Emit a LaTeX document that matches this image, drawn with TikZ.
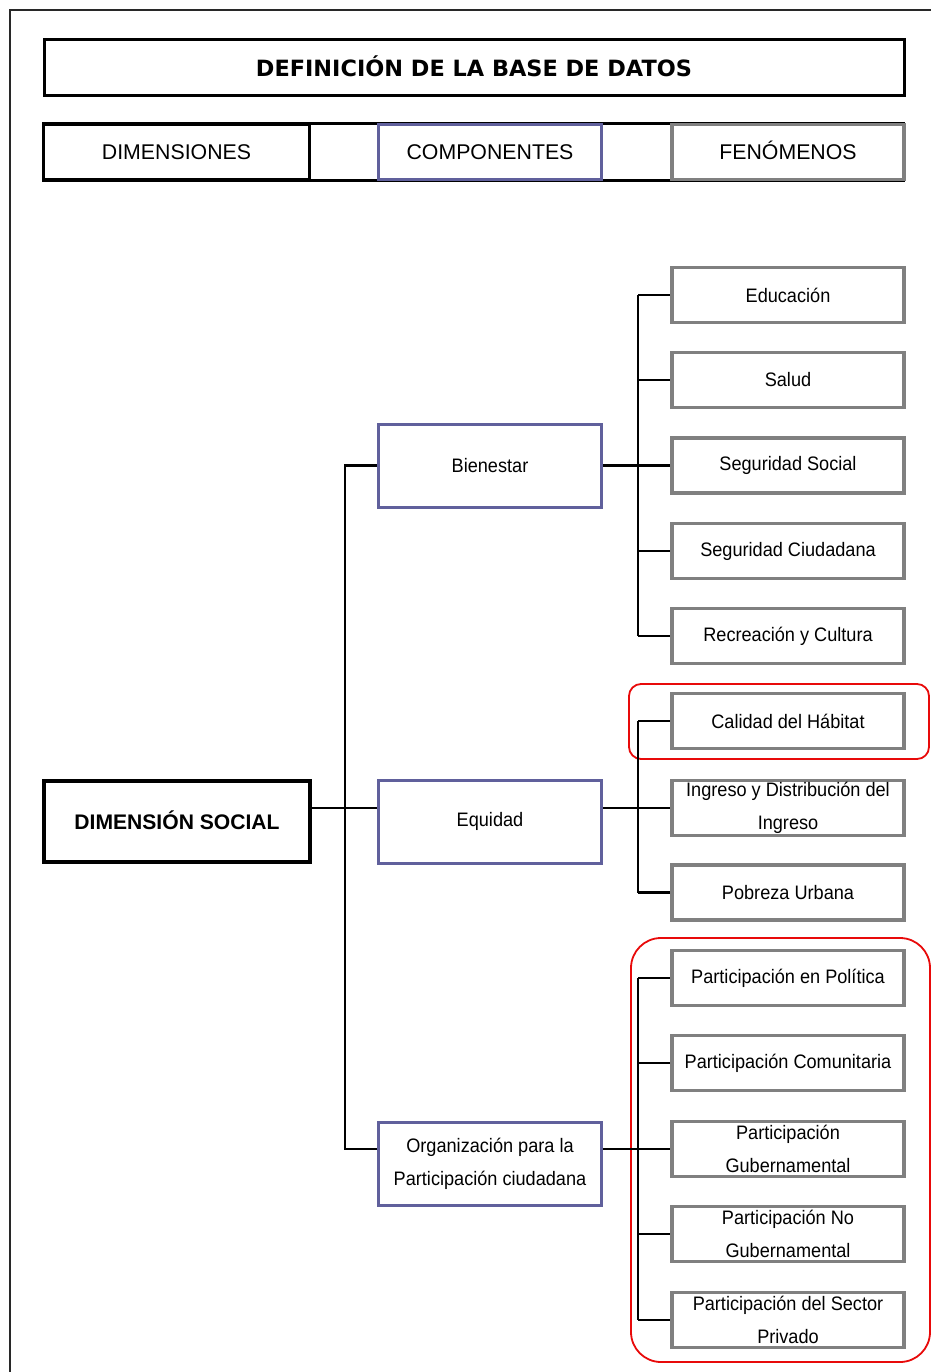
\documentclass[tikz,border=0pt]{standalone}
\usepackage{fontspec}
\setmainfont{Liberation Sans}
\newfontfamily\narrowf[FakeStretch=0.93]{Liberation Sans}
\newfontfamily\titlef{DejaVu Sans}
\definecolor{compblue}{RGB}{96,96,156}
\definecolor{fengray}{RGB}{128,128,128}
\definecolor{redmark}{RGB}{232,10,10}
\definecolor{framegray}{RGB}{40,40,40}
\tikzset{
  conn/.style={line width=2.8pt, black},
  hdrbox/.style={draw, rectangle, fill=white, minimum height=55pt, inner sep=0pt,
    text height=15.5pt, text depth=0pt, font=\fontsize{21.3}{24}\selectfont},
  dimbox/.style={draw=black, line width=3.8pt, rectangle, fill=white, minimum width=266pt,
    minimum height=81pt, inner sep=0pt, text height=15.5pt, text depth=0pt,
    font=\fontsize{21.1}{24}\selectfont\bfseries},
  compbox/.style={draw=compblue, line width=3pt, rectangle, fill=white, minimum width=223pt,
    minimum height=83pt, inner sep=0pt, align=center, font=\narrowf\fontsize{19.5}{33}\selectfont},
  fenbox/.style={draw=fengray, line width=3.6pt, rectangle, fill=white, minimum width=232pt,
    minimum height=55pt, inner sep=0pt, align=center, font=\narrowf\fontsize{19.5}{33}\selectfont},
  redbox/.style={draw=redmark, line width=1.8pt}
}
\begin{document}
\begin{tikzpicture}[x=1pt,y=-1pt]
\useasboundingbox (0,0) rectangle (930,1372);
% outer frame
\draw[framegray, line width=2.6pt] (10,1380) -- (10,10) -- (940,10);
% title
\node[draw, line width=3pt, rectangle, minimum width=860pt, minimum height=56pt, inner sep=0pt,
  text height=16.5pt, text depth=0pt,
  font=\titlef\bfseries\fontsize{22.4}{26}\selectfont] (title) at (474,68) {DEFINICIÓN DE LA BASE DE DATOS};
% header row background
\draw[black, line width=2.2pt] (43,123.5) rectangle (904,180.5);
\node[hdrbox, draw=black, line width=3.8pt, minimum width=266pt] (hdim) at (176.5,152) {DIMENSIONES};
\node[hdrbox, draw=compblue, line width=3pt, minimum width=223pt] (hcomp) at (490,152) {COMPONENTES};
\node[hdrbox, draw=fengray, line width=3.6pt, minimum width=232pt] (hfen) at (788,152) {FENÓMENOS};

% red highlight boxes
\draw[redbox, rounded corners=12pt] (629,684) rectangle (929,759);
\draw[redbox, rounded corners=30pt] (631,938) rectangle (930,1362);

% dimension
\node[dimbox] (dim) at (177,821.5) {DIMENSIÓN SOCIAL};
% components
\node[compbox] (bien) at (490,465.5) {Bienestar};
\node[compbox] (eq) at (490,821.5) {Equidad};
\node[compbox] (org) at (490,1163.5) {Organización para la\\Participación ciudadana};
% phenomena
\node[fenbox] (f1) at (788,295) {Educación};
\node[fenbox] (f2) at (788,380) {Salud};
\node[fenbox] (f3) at (788,465.5) {Seguridad Social};
\node[fenbox] (f4) at (788,551) {Seguridad Ciudadana};
\node[fenbox] (f5) at (788,636) {Recreación y Cultura};
\node[fenbox] (f6) at (788,721) {Calidad del Hábitat};
\node[fenbox] (f7) at (788,808) {Ingreso y Distribución del\\Ingreso};
\node[fenbox] (f8) at (788,892.5) {Pobreza Urbana};
\node[fenbox] (f9) at (788,978) {Participación en Política};
\node[fenbox] (f10) at (788,1063) {Participación Comunitaria};
\node[fenbox] (f11) at (788,1149) {Participación\\Gubernamental};
\node[fenbox] (f12) at (788,1234) {Participación No\\Gubernamental};
\node[fenbox] (f13) at (788,1320) {Participación del Sector\\Privado};

\coordinate (busL) at (345,0);
\coordinate (busR) at (638,0);
% left tree
\draw[conn] (bien.west) -- (bien.west -| busL) -- ([yshift=14.5pt]org.west -| busL) -- ([yshift=14.5pt]org.west);
\draw[conn] ([yshift=13.5pt]dim.east) -- ([yshift=13.5pt]eq.west);
% Bienestar branch
\draw[conn] (bien.east) -- (bien.east -| busR);
\draw[conn] (f1.west -| busR) -- (f5.west -| busR);
\foreach \n in {f1,f2,f3,f4,f5} \draw[conn] (\n.west -| busR) -- (\n.west);
% Equidad branch
\draw[conn] ([yshift=13.5pt]eq.east) -- ([yshift=13.5pt]eq.east -| busR);
\draw[conn] (f6.west -| busR) -- (f8.west -| busR);
\foreach \n in {f6,f7,f8} \draw[conn] (\n.west -| busR) -- (\n.west);
% Organizacion branch
\draw[conn] ([yshift=14.5pt]org.east) -- ([yshift=14.5pt]org.east -| busR);
\draw[conn] (f9.west -| busR) -- (f13.west -| busR);
\foreach \n in {f9,f10,f11,f12,f13} \draw[conn] (\n.west -| busR) -- (\n.west);
\end{tikzpicture}
\end{document}
